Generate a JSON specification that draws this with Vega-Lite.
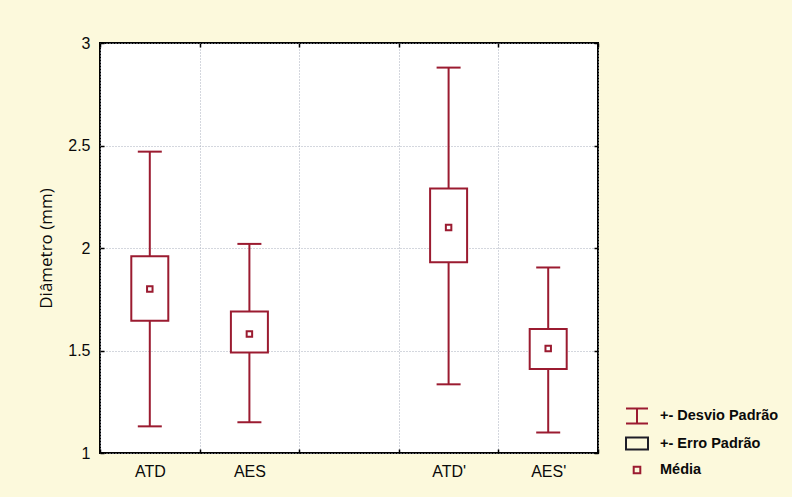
{
  "$schema": "https://vega.github.io/schema/vega-lite/v6.json",
  "width": 498,
  "height": 410,
  "autosize": {"type": "none"},
  "padding": {"left": 100, "top": 43, "right": 194, "bottom": 44},
  "background": "#fcf9dc",
  "config": {
    "view": {"fill": "white", "stroke": "black", "strokeWidth": 2}
  },
  "data": {
    "values": [
      {"grp": "ATD", "lo": 1.13, "q1": 1.645, "mean": 1.80, "q3": 1.96, "hi": 2.47},
      {"grp": "AES", "lo": 1.15, "q1": 1.49, "mean": 1.58, "q3": 1.69, "hi": 2.02},
      {"grp": "ATD'", "lo": 1.335, "q1": 1.93, "mean": 2.10, "q3": 2.29, "hi": 2.88},
      {"grp": "AES'", "lo": 1.10, "q1": 1.41, "mean": 1.51, "q3": 1.605, "hi": 1.905}
    ]
  },
  "resolve": {"axis": {"x": "independent", "y": "independent"}},
  "layer": [
    {
      "encoding": {
        "x": {
          "field": "grp",
          "type": "nominal",
          "scale": {"domain": ["ATD", "AES", " ", "ATD'", "AES'"], "paddingInner": 0, "paddingOuter": 0},
          "axis": {
            "title": null,
            "orient": "bottom",
            "tickBand": "extent",
            "labelAngle": 0,
            "labelFont": "Liberation Sans",
            "labelFontSize": 16,
            "labelColor": "#0a0a0a",
            "labelPadding": 14,
            "tickSize": -4,
            "tickColor": "#000000",
            "tickWidth": 1.5,
            "domain": false,
            "grid": true,
            "gridColor": "#a9afbd",
            "gridDash": [1, 2],
            "gridWidth": 1
          }
        }
      },
      "layer": [
        {
          "mark": {"type": "rule", "color": "#9b1b30", "strokeWidth": 2},
          "encoding": {
            "y": {
              "field": "lo",
              "type": "quantitative",
              "scale": {"domain": [1, 3], "nice": false, "zero": false},
              "axis": {
                "title": "Diâmetro (mm)",
                "orient": "left",
                "values": [1, 1.5, 2, 2.5, 3],
                "format": "~g",
                "labelFont": "Liberation Sans",
                "labelFontSize": 16,
                "labelColor": "#0a0a0a",
                "labelPadding": 14,
                "tickSize": -4,
                "tickColor": "#000000",
                "tickWidth": 1.5,
                "domain": false,
                "grid": true,
                "gridColor": "#a9afbd",
                "gridDash": [1, 2],
                "gridWidth": 1,
                "titleFont": "Open Sans",
                "titleFontSize": 17,
                "titleFontWeight": "normal",
                "titleColor": "#0a0a0a",
                "titlePadding": 12
              }
            },
            "y2": {"field": "hi"}
          }
        },
        {
          "mark": {"type": "tick", "orient": "horizontal", "color": "#9b1b30", "size": 24, "thickness": 2, "opacity": 1},
          "encoding": {"y": {"field": "lo", "type": "quantitative"}}
        },
        {
          "mark": {"type": "tick", "orient": "horizontal", "color": "#9b1b30", "size": 24, "thickness": 2, "opacity": 1},
          "encoding": {"y": {"field": "hi", "type": "quantitative"}}
        },
        {
          "mark": {"type": "bar", "size": 37, "fill": "white", "stroke": "#9b1b30", "strokeWidth": 2},
          "encoding": {
            "y": {"field": "q1", "type": "quantitative"},
            "y2": {"field": "q3"}
          }
        },
        {
          "mark": {"type": "point", "shape": "square", "size": 30, "filled": false, "stroke": "#9b1b30", "strokeWidth": 2, "opacity": 1},
          "encoding": {"y": {"field": "mean", "type": "quantitative"}}
        }
      ]
    },
    {
      "transform": [{"filter": "false"}],
      "mark": {"type": "point", "filled": false, "strokeWidth": 2, "opacity": 1},
      "encoding": {
        "x": {
          "field": "grp",
          "type": "nominal",
          "axis": {
            "title": null,
            "orient": "top",
            "labels": false,
            "tickBand": "extent",
            "tickSize": -4,
            "tickColor": "#000000",
            "tickWidth": 1.5,
            "domain": false,
            "grid": false
          }
        },
        "y": {
          "field": "mean",
          "type": "quantitative",
          "axis": {
            "title": null,
            "orient": "right",
            "labels": false,
            "values": [1, 1.5, 2, 2.5, 3],
            "tickSize": -4,
            "tickColor": "#000000",
            "tickWidth": 1.5,
            "domain": false,
            "grid": false
          }
        },
        "color": {
          "field": "legend",
          "type": "nominal",
          "scale": {
            "domain": ["+- Desvio Padrão", "+- Erro Padrão", "Média"],
            "range": ["#9b1b30", "#1e1e28", "#9b1b30"]
          },
          "legend": {
            "title": null,
            "orient": "none",
            "direction": "vertical",
            "legendX": 525,
            "legendY": 361,
            "padding": 0,
            "labelFont": "Liberation Sans",
            "labelFontSize": 14.5,
            "labelFontWeight": "bold",
            "labelColor": "#0a0a0a",
            "labelOffset": 11,
            "rowPadding": 3.5,
            "symbolSize": 484,
            "symbolStrokeWidth": 2,
            "symbolOpacity": 1
          }
        },
        "shape": {
          "field": "legend",
          "type": "nominal",
          "scale": {
            "domain": ["+- Desvio Padrão", "+- Erro Padrão", "Média"],
            "range": [
              "M-1,-0.68H1M0,-0.68V0.68M-1,0.68H1",
              "M-1,-0.55H1V0.55H-1Z",
              "M-0.3,-0.3H0.3V0.3H-0.3Z"
            ]
          },
          "legend": {
            "title": null,
            "orient": "none",
            "direction": "vertical",
            "legendX": 525,
            "legendY": 361,
            "padding": 0,
            "labelFont": "Liberation Sans",
            "labelFontSize": 14.5,
            "labelFontWeight": "bold",
            "labelColor": "#0a0a0a",
            "labelOffset": 11,
            "rowPadding": 3.5,
            "symbolSize": 484,
            "symbolStrokeWidth": 2,
            "symbolOpacity": 1
          }
        }
      }
    }
  ]
}
